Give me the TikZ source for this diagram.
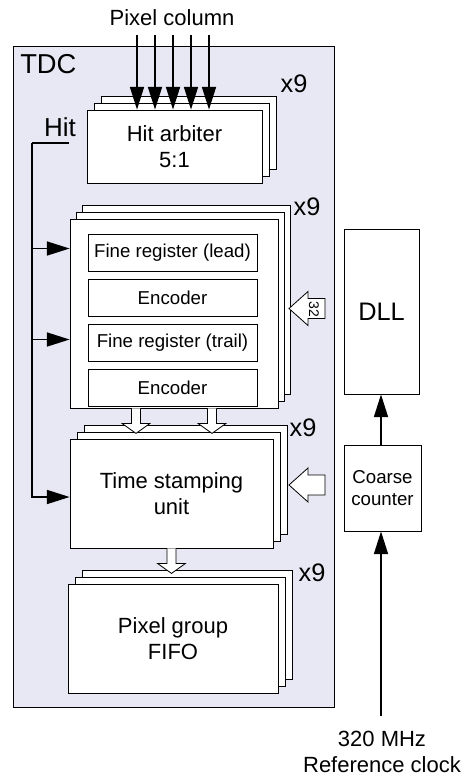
\documentclass[tikz,border=0pt]{standalone}
\usepackage{fontspec}
\setmainfont{Liberation Sans}
\usetikzlibrary{arrows.meta,calc,positioning,shadows}

\definecolor{tdcfill}{RGB}{232,232,244}

\tikzset{
  blk/.style={draw, fill=white, line width=0.6pt, inner sep=0pt, align=center},
  cardstack/.style 2 args={
    general shadow={draw=black, fill=white, line width=0.6pt, shadow xshift=2*#1, shadow yshift=2*#2},
    general shadow={draw=black, fill=white, line width=0.6pt, shadow xshift=#1, shadow yshift=#2}},
  wire/.style={line width=1.1pt},
  feed/.style={wire, -{Triangle[length=17pt,width=10.5pt]}},
  hollow/.style={draw, fill=white, line width=0.6pt, line join=miter},
  big/.style={font=\fontsize{16.5}{19}\selectfont},
  small/.style={font=\fontsize{14}{16}\selectfont},
  mult/.style={font=\fontsize{19}{20}\selectfont, anchor=base west, inner sep=0pt},
}

% wide outlined arrow pointing down, #1 = top of shaft, #2 = tip
\newcommand\hollowdown[2]{%
  \draw[hollow] ($(#1)+(-4.5,0)$) -- ($(#2)+(-4.5,-10)$) -- ($(#2)+(-14,-10)$) -- (#2)
    -- ($(#2)+(14,-10)$) -- ($(#2)+(4.5,-10)$) -- ($(#1)+(4.5,0)$);}
% wide outlined arrow pointing left, #1 = tail, #2 = tip
\newcommand\hollowleft[2]{%
  \draw[hollow] ($(#1)+(0,-10)$) -- ($(#2)+(19,-10)$) -- ($(#2)+(19,-17)$) -- (#2)
    -- ($(#2)+(19,17)$) -- ($(#2)+(19,10)$) -- ($(#1)+(0,10)$) -- cycle;}

\begin{document}
\begin{tikzpicture}[x=0.75pt,y=-0.75pt]
  \useasboundingbox (0,0) rectangle (468,776);

  % TDC frame
  \node[draw, fill=tdcfill, line width=0.6pt, minimum width=240.75pt, minimum height=495.75pt]
    (tdc) at (173.5,376.5) {};
  \node[font=\fontsize{20.5}{22}\selectfont, anchor=west, inner sep=0pt] (tdclabel) at (20,64) {TDC};

  % hit arbiter
  \node[big] (pixcol) at (172,18) {Pixel column};
  \node[blk, big, cardstack={5.25pt}{5.25pt}, minimum width=131.25pt, minimum height=54.75pt]
    (arb) at (174.5,146.5) {Hit arbiter\\5:1};
  \node[mult] (arbx) at ($(arb.north east)+(18,-17)$) {x9};
  \foreach \dx in {-36,-18,0,18,36}
    \draw[feed] ($(pixcol.south)+(\dx+1,4)$) -- ($(arb.north)+(\dx-1.5,0)$);

  % fine registers and encoders
  \node[blk, cardstack={4.5pt}{5.25pt}, minimum width=156pt, minimum height=141.75pt]
    (fine) at (174,313.5) {};
  \node[mult] (finex) at ($(fine.north east)+(15,-3)$) {x9};
  \begin{scope}[every node/.style={blk, small, minimum width=126.75pt, minimum height=27.75pt},
      node distance=5.4pt]
    \node (lead) at (172.5,252.5) {Fine register (lead)};
    \node[below=of lead] (enclead) {Encoder};
    \node[below=of enclead] (trail) {Fine register (trail)};
    \node[below=of trail] (enctrail) {Encoder};
  \end{scope}

  % time stamping unit
  \node[blk, big, cardstack={5.25pt}{5.25pt}, minimum width=152.25pt, minimum height=81.75pt]
    (ts) at (171.5,493.5) {Time stamping\\unit};
  \node[mult] (tsx) at ($(ts.north east)+(16,-2)$) {x9};

  % pixel group FIFO
  \node[blk, big, cardstack={5.25pt}{5.25pt}, minimum width=157.5pt, minimum height=81.75pt]
    (fifo) at (173,638.5) {Pixel group\\FIFO};
  \node[mult] (fifox) at ($(fifo.north east)+(20,-2)$) {x9};

  % data paths between the stages
  \hollowdown{$(fine.south)+(-38,0)$}{$(fine.south)+(-38,25)$}
  \hollowdown{$(fine.south)+(38,0)$}{$(fine.south)+(38,25)$}
  \hollowdown{$(ts.south)+(0,0)$}{$(ts.south)+(0,25)$}

  % hit distribution
  \node[font=\fontsize{19.5}{21}\selectfont, inner sep=0pt] (hit) at (60,127.5) {Hit};
  \coordinate (hitin) at (69,143);
  \coordinate (bus) at (32,143);
  \draw[wire] (hitin) -- (bus);
  \draw[feed] (bus) |- ($(ts.west)+(0,3.5)$);
  \draw[feed] (bus |- lead) ++(0,-4) -- ($(fine.west |- lead)+(0,-4)$);
  \draw[feed] (bus |- trail) ++(0,-3) -- ($(fine.west |- trail)+(0,-3)$);

  % clock generation
  \node[blk, font=\fontsize{19}{21}\selectfont, minimum width=56.25pt, minimum height=123.75pt]
    (dll) at (381.5,311.5) {DLL};
  \node[blk, small, minimum width=57.75pt, minimum height=64.5pt]
    (coarse) at (382.5,488) {Coarse\\counter};
  \node[big, align=center] (clk) at (382,752) {320 MHz\\Reference clock};
  \coordinate (clkin) at (381,716);
  \draw[feed] (clkin) -- (clkin |- coarse.south);
  \draw[feed] (clkin |- coarse.north) -- (clkin |- dll.south);

  % phases and coarse time into the TDC
  \coordinate (phasetail) at (325,308.5);
  \coordinate (phasetip) at (289,308.5);
  \hollowleft{phasetail}{phasetip}
  \node[rotate=-90, font=\fontsize{10.5}{11}\selectfont, inner sep=0pt] (phasebits) at (314,309) {32};
  \coordinate (coarsetail) at (325,485);
  \coordinate (coarsetip) at (289,485);
  \hollowleft{coarsetail}{coarsetip}
\end{tikzpicture}
\end{document}
